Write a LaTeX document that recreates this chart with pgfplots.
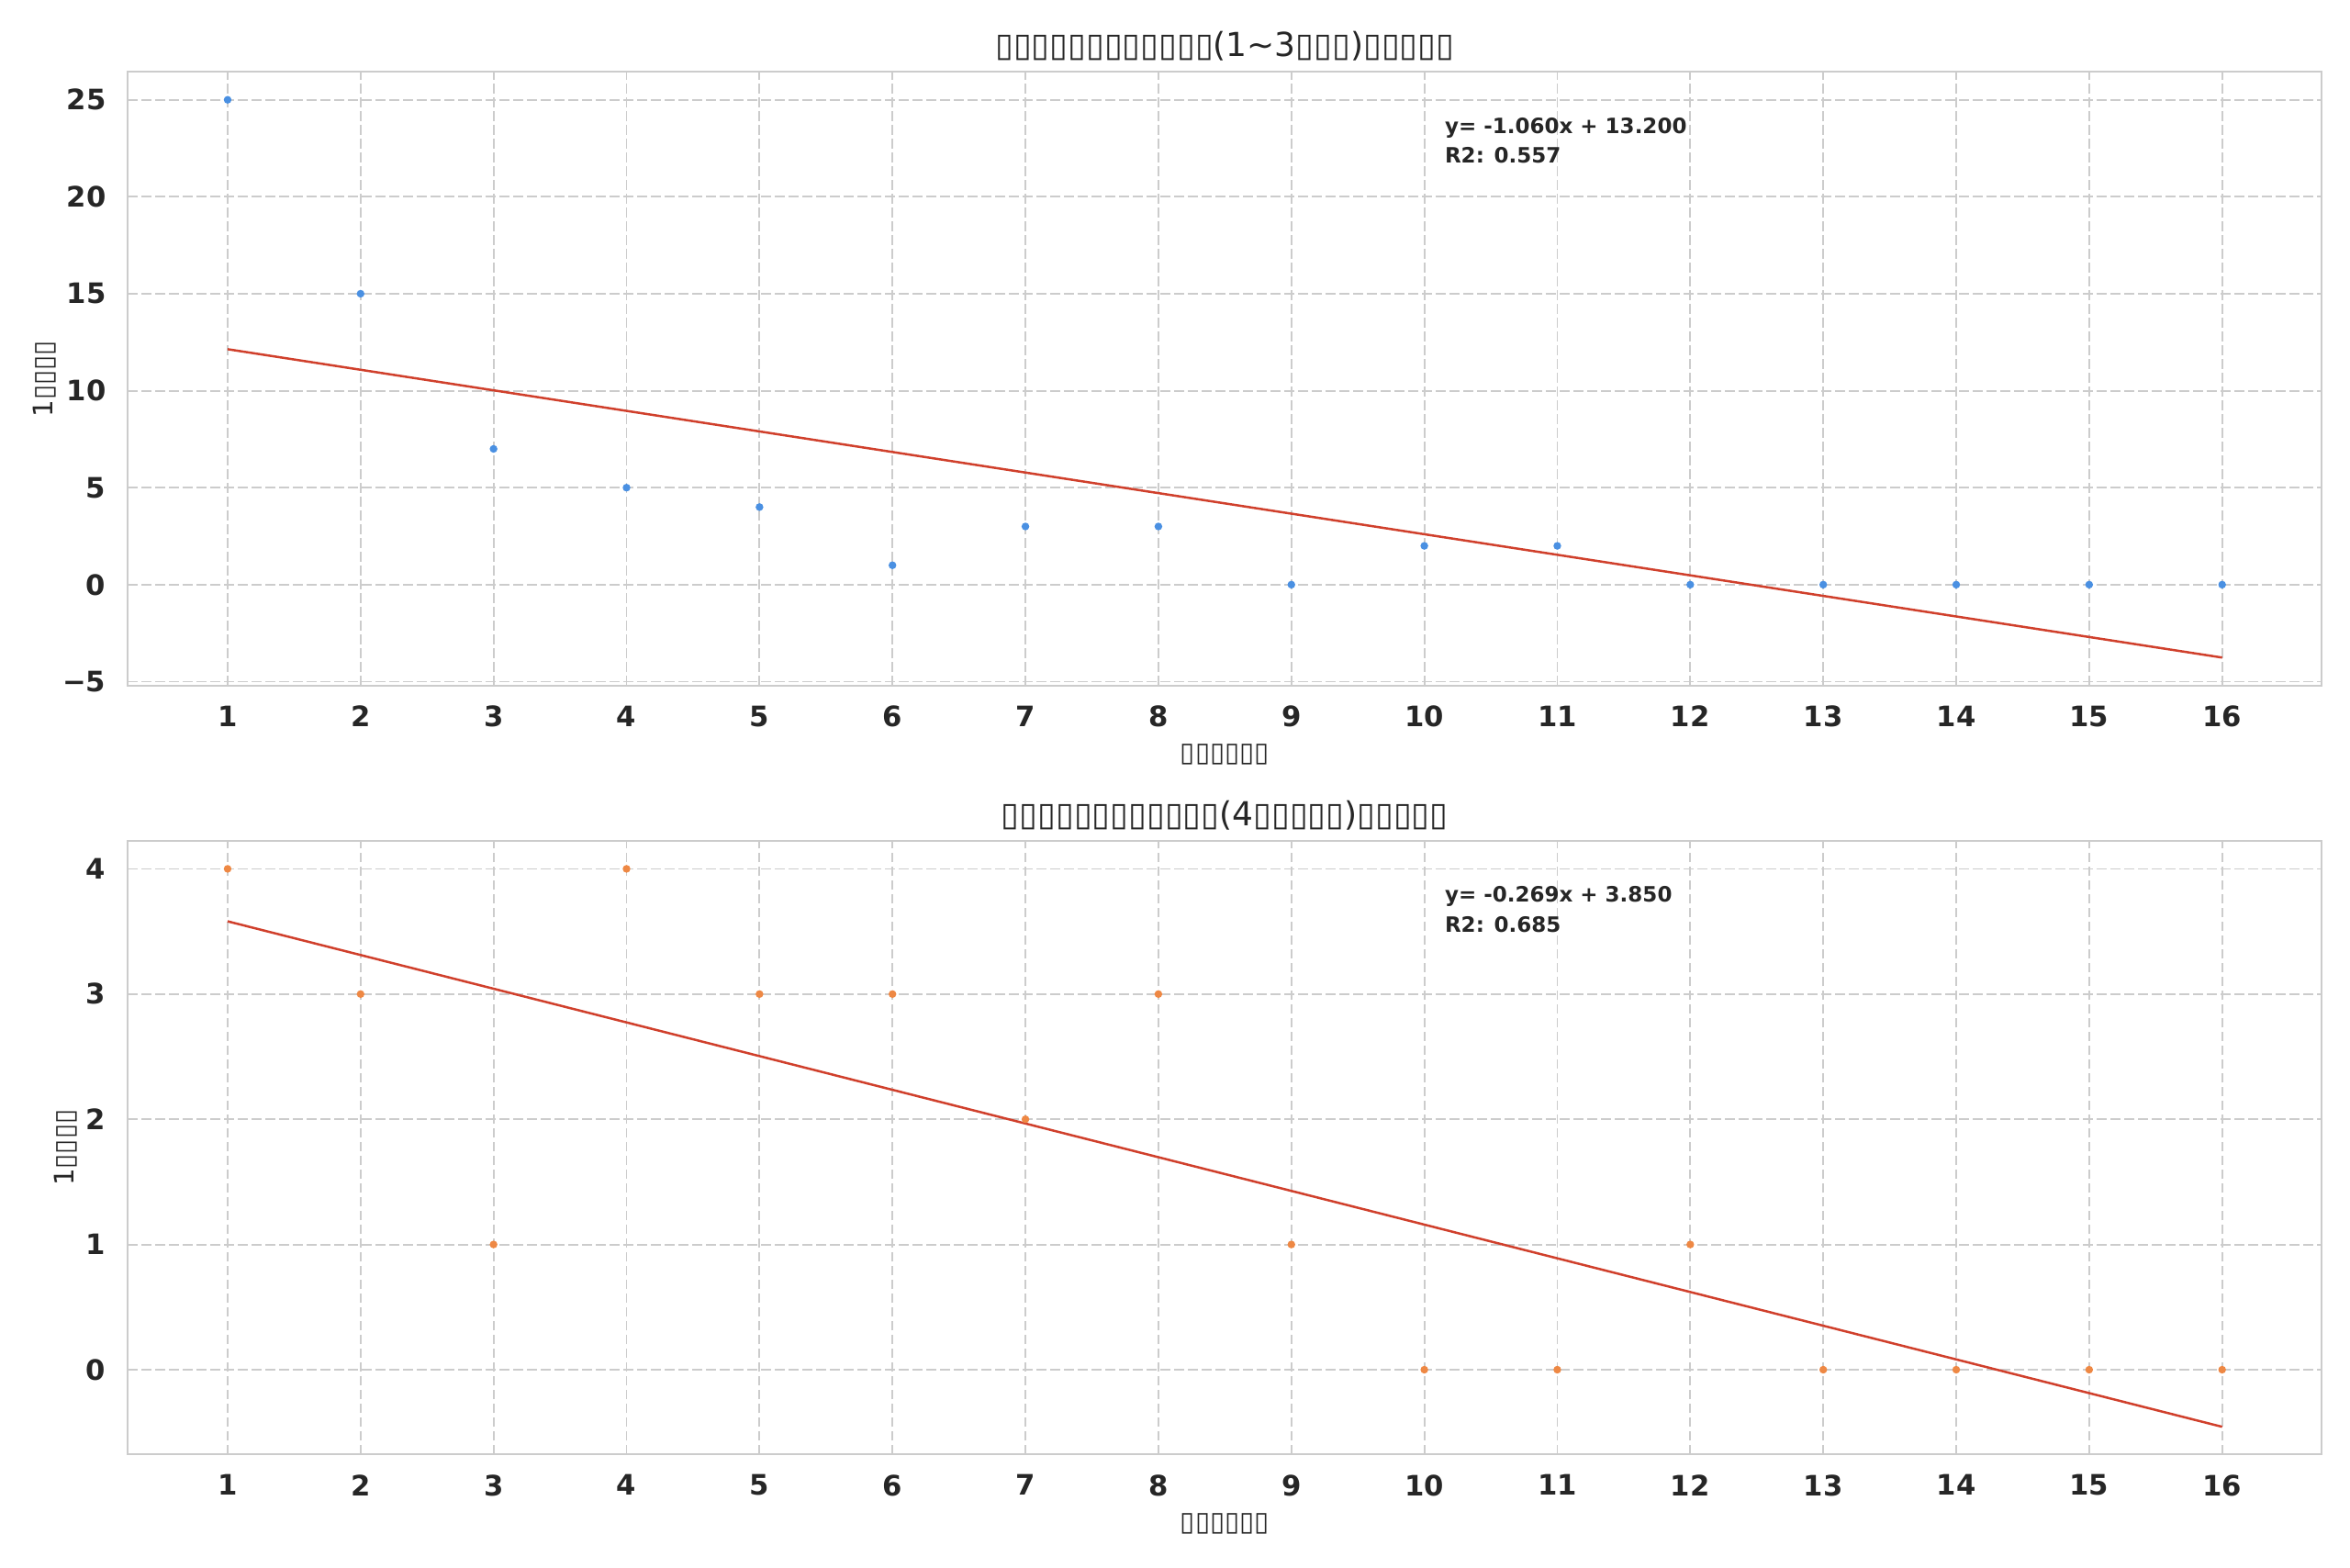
\documentclass[border=0pt]{standalone}
\usepackage{fontspec}
\setmainfont{DejaVu Sans}
\usepackage{pgfplots}
\pgfplotsset{compat=1.18}
\definecolor{txt}{HTML}{262626}
\definecolor{gridc}{HTML}{CCCCCC}
\definecolor{ptblue}{HTML}{4A90E2}
\definecolor{ptorange}{HTML}{EE8844}
\definecolor{fitred}{HTML}{D0402C}
\newcommand\T{▯}
\pgfplotsset{
  panel/.style={
    scale only axis, width=717pt, height=200.5pt,
    xmin=0.25, xmax=16.75, xtick={1,...,16},
    clip=false,
    grid=major,
    major grid style={gridc, dash pattern=on 3.1pt off 1.4pt, line width=0.55pt},
    axis line style={gridc, line width=0.6pt},
    major tick length=0pt,
    tick label style={font=\fontsize{9.2}{11}\selectfont\bfseries, text=txt},
    /pgf/number format/assume math mode=true,
    xticklabel style={anchor=north, inner sep=0pt, yshift=-6.4pt},
    yticklabel style={anchor=east, inner sep=0pt, xshift=-7pt},
  },
}
\tikzset{
  ttl/.style={font=\fontsize{10.8}{13}\selectfont, text=txt, inner sep=0pt},
  lbl/.style={font=\fontsize{8.8}{11}\selectfont, text=txt, inner sep=0pt},
  ann/.style={font=\fontsize{6.9}{8}\selectfont\bfseries, text=txt, inner sep=0pt, anchor=base west},
}
\begin{document}
\begin{tikzpicture}
\path[use as bounding box] (0,0) rectangle (768pt,512.1pt);
% top panel
\begin{axis}[panel, at={(41.8pt,288.1pt)}, anchor=south west,
  ymin=-5.198, ymax=26.438, ytick={-5,0,5,10,15,20,25},
  yticklabels={−5,0,5,10,15,20,25}]
\addplot[only marks, mark=*, mark size=1.05pt, color=ptblue] coordinates {
(1,25) (2,15) (3,7) (4,5) (5,4) (6,1) (7,3) (8,3) (9,0) (10,2) (11,2) (12,0) (13,0) (14,0) (15,0) (16,0)};
\addplot[fitred, line width=0.75pt] coordinates {(1,12.14) (16,-3.76)};
\node[ttl, anchor=base] at ([yshift=5.1pt]rel axis cs:0.5,1) {\T\T\T\T\T\T\T\T\T\T\T\T(1{\char`\~}3\T\T\T)\T\T\T\T\T};
\node[lbl, anchor=center] at ([yshift=-22.6pt]rel axis cs:0.5,0) {\T\T\T\T\T\T};
\node[lbl, anchor=center, rotate=90] at ([xshift=-27.2pt]rel axis cs:0,0.5) {1\T\T\T\T};
\node[ann] at (rel axis cs:0.6,0.9) {y= -1.060x + 13.200};
\node[ann] at (rel axis cs:0.6,0.851) {R2: 0.557};
\end{axis}
% bottom panel
\begin{axis}[panel, at={(41.8pt,36.8pt)}, anchor=south west,
  ymin=-0.677, ymax=4.223, ytick={0,1,2,3,4}]
\addplot[only marks, mark=*, mark size=1.05pt, color=ptorange] coordinates {
(1,4) (2,3) (3,1) (4,4) (5,3) (6,3) (7,2) (8,3) (9,1) (10,0) (11,0) (12,1) (13,0) (14,0) (15,0) (16,0)};
\addplot[fitred, line width=0.75pt] coordinates {(1,3.581) (16,-0.456)};
\node[ttl, anchor=base] at ([yshift=5.1pt]rel axis cs:0.5,1) {\T\T\T\T\T\T\T\T\T\T\T\T(4\T\T\T\T\T)\T\T\T\T\T};
\node[lbl, anchor=center] at ([yshift=-22.6pt]rel axis cs:0.5,0) {\T\T\T\T\T\T};
\node[lbl, anchor=center, rotate=90] at ([xshift=-20.2pt]rel axis cs:0,0.5) {1\T\T\T\T};
\node[ann] at (rel axis cs:0.6,0.9) {y= -0.269x + 3.850};
\node[ann] at (rel axis cs:0.6,0.851) {R2: 0.685};
\end{axis}
\end{tikzpicture}
\end{document}
